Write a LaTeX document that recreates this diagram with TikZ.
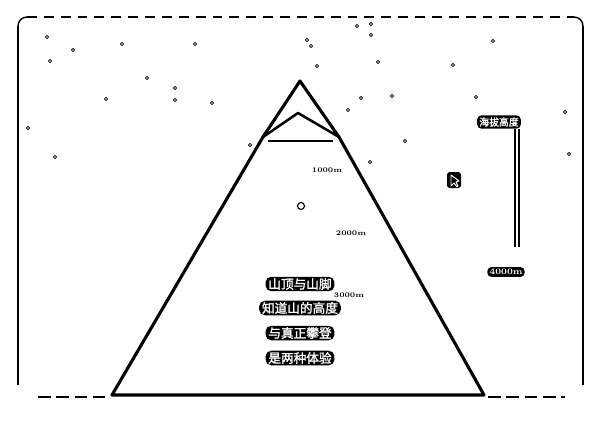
\documentclass[tikz,border=0pt]{standalone}
\usepackage{fontspec}
\newfontfamily\cjk[FakeBold=1.5]{Noto Sans CJK SC}
\usepackage{tikz}
\usetikzlibrary{calc}
\tikzset{
  tag/.style={fill=black,text=white,rounded corners=4pt,inner xsep=2pt,inner ysep=1pt,font=\cjk\fontsize{9}{11}\selectfont},
  smalltag/.style={fill=black,text=white,rounded corners=3pt,inner sep=1.5pt,font=\cjk\fontsize{7}{8}\selectfont},
  height/.style={inner sep=0pt,font=\bfseries\fontsize{5}{6}\selectfont},
}
\begin{document}
\begin{tikzpicture}[x=0.025cm,y=-0.025cm]
        \useasboundingbox (0,0) rectangle (600,423);
        % frame
        \draw[line width=1pt,dash pattern=on 7pt off 5pt] (27,17)--(574,17);
        \draw[line width=1pt] (18,26) arc [start angle=180,end angle=270,radius=9];
        \draw[line width=1pt] (574,17) arc [start angle=270,end angle=360,radius=9];
        \draw[line width=1pt] (18,26)--(18,385);
        \draw[line width=1pt] (583,26)--(583,385);
        \draw[line width=0.8pt,dash pattern=on 9pt off 4pt] (38,397)--(110,397);
        \draw[line width=0.8pt,dash pattern=on 9pt off 4pt] (488,397)--(565,397);
        % stars
        \foreach \x/\y in {47/37,73/50,50/61,122/44,147/78,175/88,106/99,28/128,195/44,212/103,
                          357/26,371/24,371/35,307/40,311/46,493/41,317/66,378/62,453/65,361/98,
                          392/96,348/110,476/97,565/112,405/141,569/154,370/162,250/145,55/157,175/100}
          \draw[line width=0.5pt] (\x,\y) circle [radius=1.6];
        % mountain
        \coordinate (top) at (300,81);
        \coordinate (cap left) at (263,137);
        \coordinate (cap right) at (339,137);
        \coordinate (foot left) at (112,395);
        \coordinate (foot right) at (484,395);
        \draw[line width=2.2pt,line join=round] (top)--(cap right)--(foot right)--(foot left)--(cap left)--cycle;
        \draw[line width=1.8pt,line join=round] (cap left)--(298,113)--(cap right);
        \draw[line width=1.8pt] (268,141)--(333,141);
        \draw[line width=0.8pt] (301,206) circle [radius=3.5];
        % heights
        \node[height] (h1000) at (327,170){1000m};
        \node[height] (h2000) at (351,233){2000m};
        \node[height] (h3000) at (349,295){3000m};
        % text
        \node[tag] (line1) at (300,284){山顶与山脚};
        \node[tag] (line2) at (300,308){知道山的高度};
        \node[tag] (line3) at (300,333){与真正攀登};
        \node[tag] (line4) at (300,358){是两种体验};
        % altitude bar
        \node[smalltag] (alt) at (499,122){海拔高度};
        \node[smalltag,font=\bfseries\fontsize{6}{7}\selectfont] (h4000) at (506,272){4000m};
        \draw[line width=1.2pt,double distance=1.2pt] (517,129)--(517,247);
        % cursor
        \fill[black,rounded corners=2pt] (447,172) rectangle (461,188);
        \draw[white,line width=0.7pt,line join=round] (451,175)--(451,186)--(454,183)--(457,187)--(458,186)--(456,182)--(459,181)--cycle;
\end{tikzpicture}
\end{document}
